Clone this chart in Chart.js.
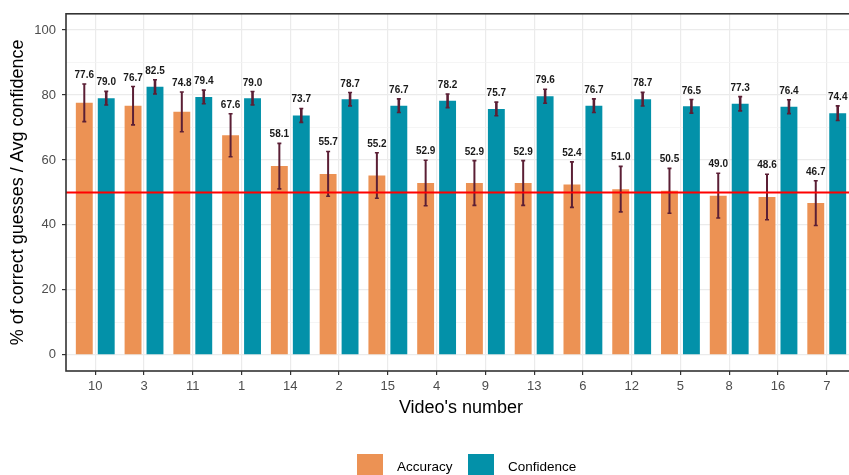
<!DOCTYPE html>
<html>
<head>
<meta charset="utf-8">
<script src="https://cdn.jsdelivr.net/npm/chart.js@4.4.1/dist/chart.umd.min.js"></script>
<style>
  html, body { margin: 0; padding: 0; background: #ffffff; overflow: hidden; }
  canvas { display: block; }
</style>
</head>
<body>
<canvas id="chart" width="880" height="475"></canvas>
<script>
// Videos, ordered by accuracy
const videoLabels = ['10', '3', '11', '1', '14', '2', '15', '4', '9', '13', '6', '12', '5', '8', '16', '7'];

// % of correct guesses per video, with its error half-width
const accuracy    = [77.6, 76.7, 74.8, 67.6, 58.1, 55.7, 55.2, 52.9, 52.9, 52.9, 52.4, 51.0, 50.5, 49.0, 48.6, 46.7];
const accuracyErr = [5.8, 5.9, 6.1, 6.6, 7.0, 6.9, 7.0, 7.0, 6.9, 6.9, 7.0, 7.0, 6.9, 6.9, 7.0, 6.9];

// Average confidence per video, with its error half-width
const confidence    = [79.0, 82.5, 79.4, 79.0, 73.7, 78.7, 76.7, 78.2, 75.7, 79.6, 76.7, 78.7, 76.5, 77.3, 76.4, 74.4];
const confidenceErr = [2.1, 2.2, 2.1, 2.05, 2.15, 2.05, 2.1, 2.1, 2.1, 2.15, 2.1, 2.1, 2.1, 2.2, 2.15, 2.25];

// Chance level reference line
const chanceLevel = 50;

// Axis ticks
const yTicks = [0, 10, 20, 30, 40, 50, 60, 70, 80, 90, 100];

const ORANGE = '#EC9254';
const TEAL = '#0391A9';
const ERR = '#5B1F35';
const FONT = '"Liberation Sans", Arial, Helvetica, sans-serif';

const toPoints = (arr) => arr.map((v, i) => ({ x: i, y: v }));

// Error bars + value labels over each bar
const errorBarPlugin = {
  id: 'errorBars',
  afterDatasetsDraw(chart) {
    const ctx = chart.ctx;
    const yScale = chart.scales.y;
    chart.data.datasets.forEach((ds, di) => {
      const meta = chart.getDatasetMeta(di);
      meta.data.forEach((el, j) => {
        const v = ds.data[j].y;
        const e = ds.errors[j];
        const yTop = yScale.getPixelForValue(v + e);
        const yBot = yScale.getPixelForValue(v - e);
        ctx.save();
        ctx.strokeStyle = ERR;
        ctx.lineWidth = ds.errWidth;
        ctx.beginPath();
        ctx.moveTo(el.x, yTop);
        ctx.lineTo(el.x, yBot);
        ctx.stroke();
        ctx.lineWidth = 1.6;
        ctx.beginPath();
        ctx.moveTo(el.x - 2, yTop);
        ctx.lineTo(el.x + 2, yTop);
        ctx.moveTo(el.x - 2, yBot);
        ctx.lineTo(el.x + 2, yBot);
        ctx.stroke();
        ctx.fillStyle = '#1a1a1a';
        ctx.font = 'bold 10px ' + FONT;
        ctx.textAlign = 'center';
        ctx.textBaseline = 'alphabetic';
        ctx.fillText(v.toFixed(1), el.x, yTop - 6);
        ctx.restore();
      });
    });
  }
};

// Reference line, panel border, axis titles and legend
const decorPlugin = {
  id: 'decor',
  afterDraw(chart) {
    const ctx = chart.ctx;
    const a = chart.chartArea;
    const y = chart.scales.y;
    ctx.save();
    // chance line
    const yl = y.getPixelForValue(chanceLevel);
    ctx.strokeStyle = '#FF0000';
    ctx.lineWidth = 2;
    ctx.beginPath();
    ctx.moveTo(a.left, yl);
    ctx.lineTo(a.right, yl);
    ctx.stroke();
    // panel border
    ctx.strokeStyle = '#333333';
    ctx.lineWidth = 1.6;
    ctx.strokeRect(a.left, a.top, a.right - a.left, a.bottom - a.top);
    // axis titles
    ctx.fillStyle = '#000000';
    ctx.font = '18px ' + FONT;
    ctx.textAlign = 'center';
    ctx.textBaseline = 'middle';
    ctx.fillText("Video's number", (a.left + a.right) / 2, 408);
    ctx.save();
    ctx.translate(18, (a.top + a.bottom) / 2);
    ctx.rotate(-Math.PI / 2);
    ctx.fillText('% of correct guesses / Avg confidence', 0, 0);
    ctx.restore();
    // legend
    const items = [
      { label: 'Accuracy', color: ORANGE, x: 357 },
      { label: 'Confidence', color: TEAL, x: 468 }
    ];
    ctx.font = '13.5px ' + FONT;
    ctx.textAlign = 'left';
    ctx.textBaseline = 'middle';
    items.forEach(it => {
      ctx.fillStyle = it.color;
      ctx.fillRect(it.x, 454, 26, 26);
      ctx.fillStyle = '#000000';
      ctx.fillText(it.label, it.x + 40, 467);
    });
    ctx.restore();
  }
};

new Chart(document.getElementById('chart'), {
  type: 'bar',
  data: {
    datasets: [
      {
        label: 'Accuracy',
        data: toPoints(accuracy),
        errors: accuracyErr,
        errWidth: 2,
        backgroundColor: ORANGE,
        categoryPercentage: 0.9,
        barPercentage: 0.77
      },
      {
        label: 'Confidence',
        data: toPoints(confidence),
        errors: confidenceErr,
        errWidth: 2.6,
        backgroundColor: TEAL,
        categoryPercentage: 0.9,
        barPercentage: 0.77
      }
    ]
  },
  options: {
    responsive: false,
    devicePixelRatio: 1,
    animation: false,
    layout: { padding: { left: 0, top: 11, right: 24, bottom: 0 } },
    plugins: {
      legend: { display: false },
      tooltip: { enabled: false }
    },
    scales: {
      x: {
        type: 'linear',
        min: -0.6,
        max: 15.6,
        offset: false,
        afterBuildTicks: (s) => { s.ticks = videoLabels.map((_, i) => ({ value: i })); },
        afterFit: (s) => { s.height = 104; },
        ticks: {
          autoSkip: false,
          maxRotation: 0,
          padding: 4,
          color: '#4D4D4D',
          font: { family: FONT, size: 13 },
          callback: (v) => videoLabels[v]
        },
        grid: {
          offset: false,
          color: '#EBEBEB',
          lineWidth: 1.2,
          tickLength: 4,
          tickColor: '#333333',
          tickWidth: 1.2
        },
        border: { display: false }
      },
      y: {
        type: 'linear',
        min: -5,
        max: 105,
        afterBuildTicks: (s) => { s.ticks = yTicks.map(v => ({ value: v })); },
        afterFit: (s) => { s.width = 66; },
        ticks: {
          padding: 6,
          color: '#4D4D4D',
          font: { family: FONT, size: 13 },
          callback: (v) => (v % 20 === 0 ? String(v) : '')
        },
        grid: {
          color: (c) => (c.tick && c.tick.value % 20 === 0 ? '#EBEBEB' : '#F2F2F2'),
          lineWidth: (c) => (c.tick && c.tick.value % 20 === 0 ? 1.2 : 0.8),
          tickLength: 4,
          tickColor: (c) => (c.tick && c.tick.value % 20 === 0 ? '#333333' : 'rgba(0,0,0,0)'),
          tickWidth: 1.2
        },
        border: { display: false }
      }
    }
  },
  plugins: [errorBarPlugin, decorPlugin]
});
</script>
</body>
</html>
